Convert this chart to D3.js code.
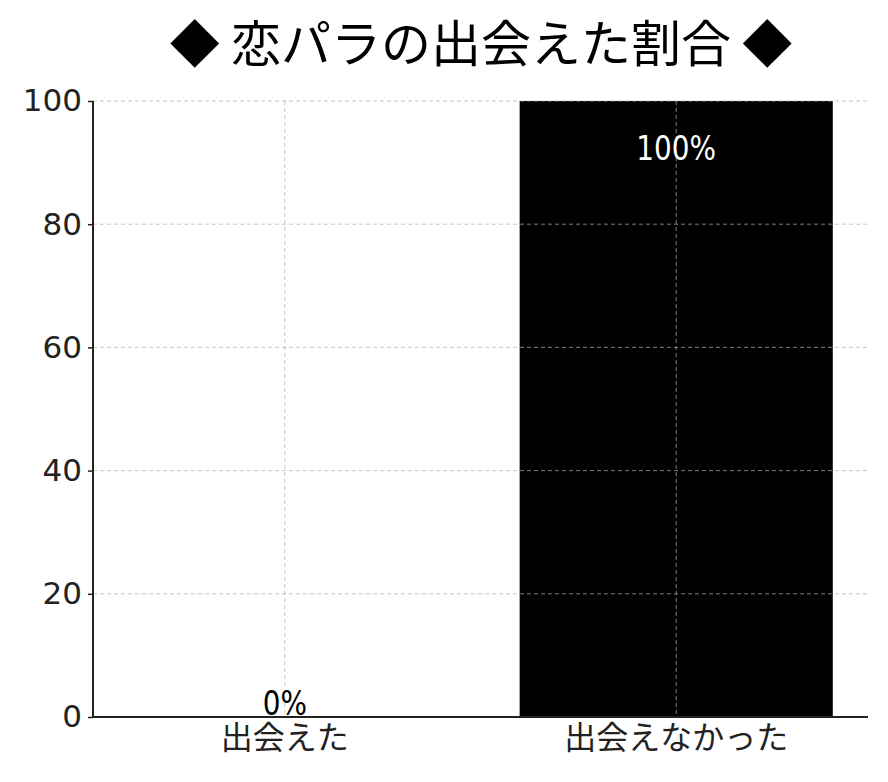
<!DOCTYPE html>
<html><head><meta charset="utf-8">
<script src="https://cdn.jsdelivr.net/npm/d3@7"></script>
<style>body{margin:0;background:#fff}svg{display:block}</style>
</head><body><svg id="c" width="888" height="782"></svg>
<script>
const title = "◆ 恋パラの出会えた割合 ◆";
const categories = ["出会えた", "出会えなかった"];
const values = [0, 100];
const valueLabels = ["0%", "100%"];
const yTicks = [0, 20, 40, 60, 80, 100];

const svg = d3.select("#c");
const m = {l: 93, r: 868, t: 101, b: 717};
const x = d3.scaleBand().domain(categories).range([m.l, m.r]).paddingInner(0.2).paddingOuter(0.09);
const y = d3.scaleLinear().domain([0, 100]).range([m.b, m.t]);
const cjk = "'Noto Sans CJK JP', 'DejaVu Sans', sans-serif";

// grid
const grid = svg.append("g");
grid.selectAll("line.h").data(yTicks).join("line")
  .attr("x1", m.l).attr("x2", m.r).attr("y1", d => y(d)).attr("y2", d => y(d))
  .attr("stroke", "#b0b0b0").attr("stroke-width", 1).attr("stroke-dasharray", "4,3").attr("opacity", 0.7);

// bars
svg.append("g").selectAll("rect").data(values).join("rect")
  .attr("x", (d, i) => x(categories[i])).attr("width", x.bandwidth())
  .attr("y", d => y(d)).attr("height", d => y(0) - y(d)).attr("fill", "#000");

grid.raise();
grid.selectAll("line.v").data(categories).join("line")
  .attr("x1", d => x(d) + x.bandwidth() / 2).attr("x2", d => x(d) + x.bandwidth() / 2)
  .attr("y1", m.t).attr("y2", m.b)
  .attr("stroke", "#b0b0b0").attr("stroke-width", 1).attr("stroke-dasharray", "4,3").attr("opacity", 0.7);

// value labels
svg.append("g").selectAll("text").data(values).join("text")
  .attr("transform", (d, i) => `translate(${x(categories[i]) + x.bandwidth() / 2},${d > 50 ? y(d) + 59 : y(d) - 2}) scale(0.82,1)`)
  .attr("text-anchor", "middle")
  .attr("fill", d => d > 50 ? "#fff" : "#000")
  .style("font-family", "'DejaVu Sans', sans-serif")
  .style("font-size", "34px")
  .text((d, i) => valueLabels[i]);

// axes
const yAxis = svg.append("g").attr("transform", `translate(${m.l},0)`)
  .call(d3.axisLeft(y).tickValues(yTicks).tickSize(5).tickPadding(6));
const xAxis = svg.append("g").attr("transform", `translate(0,${m.b})`)
  .call(d3.axisBottom(x).tickSize(0).tickPadding(8));
[yAxis, xAxis].forEach(a => {
  a.select(".domain").attr("stroke", "#222").attr("stroke-width", 2);
  a.selectAll(".tick line").attr("stroke", "#222").attr("stroke-width", 1.5);
});
xAxis.select(".domain").attr("d", `M${m.l},0H${m.r}`);
yAxis.select(".domain").attr("d", `M0,${m.b}V${m.t}`);
yAxis.selectAll("text").style("font-family", "'DejaVu Sans', sans-serif").style("font-size", "31px").attr("fill", "#222");
xAxis.selectAll("text").style("font-family", cjk).style("font-size", "32px").attr("fill", "#222").attr("dy", "0.75em");

// title
svg.append("text").attr("x", 481).attr("y", 62).attr("text-anchor", "middle")
  .style("font-family", cjk).style("font-size", "50px").attr("fill", "#000").text(title);
</script></body></html>
